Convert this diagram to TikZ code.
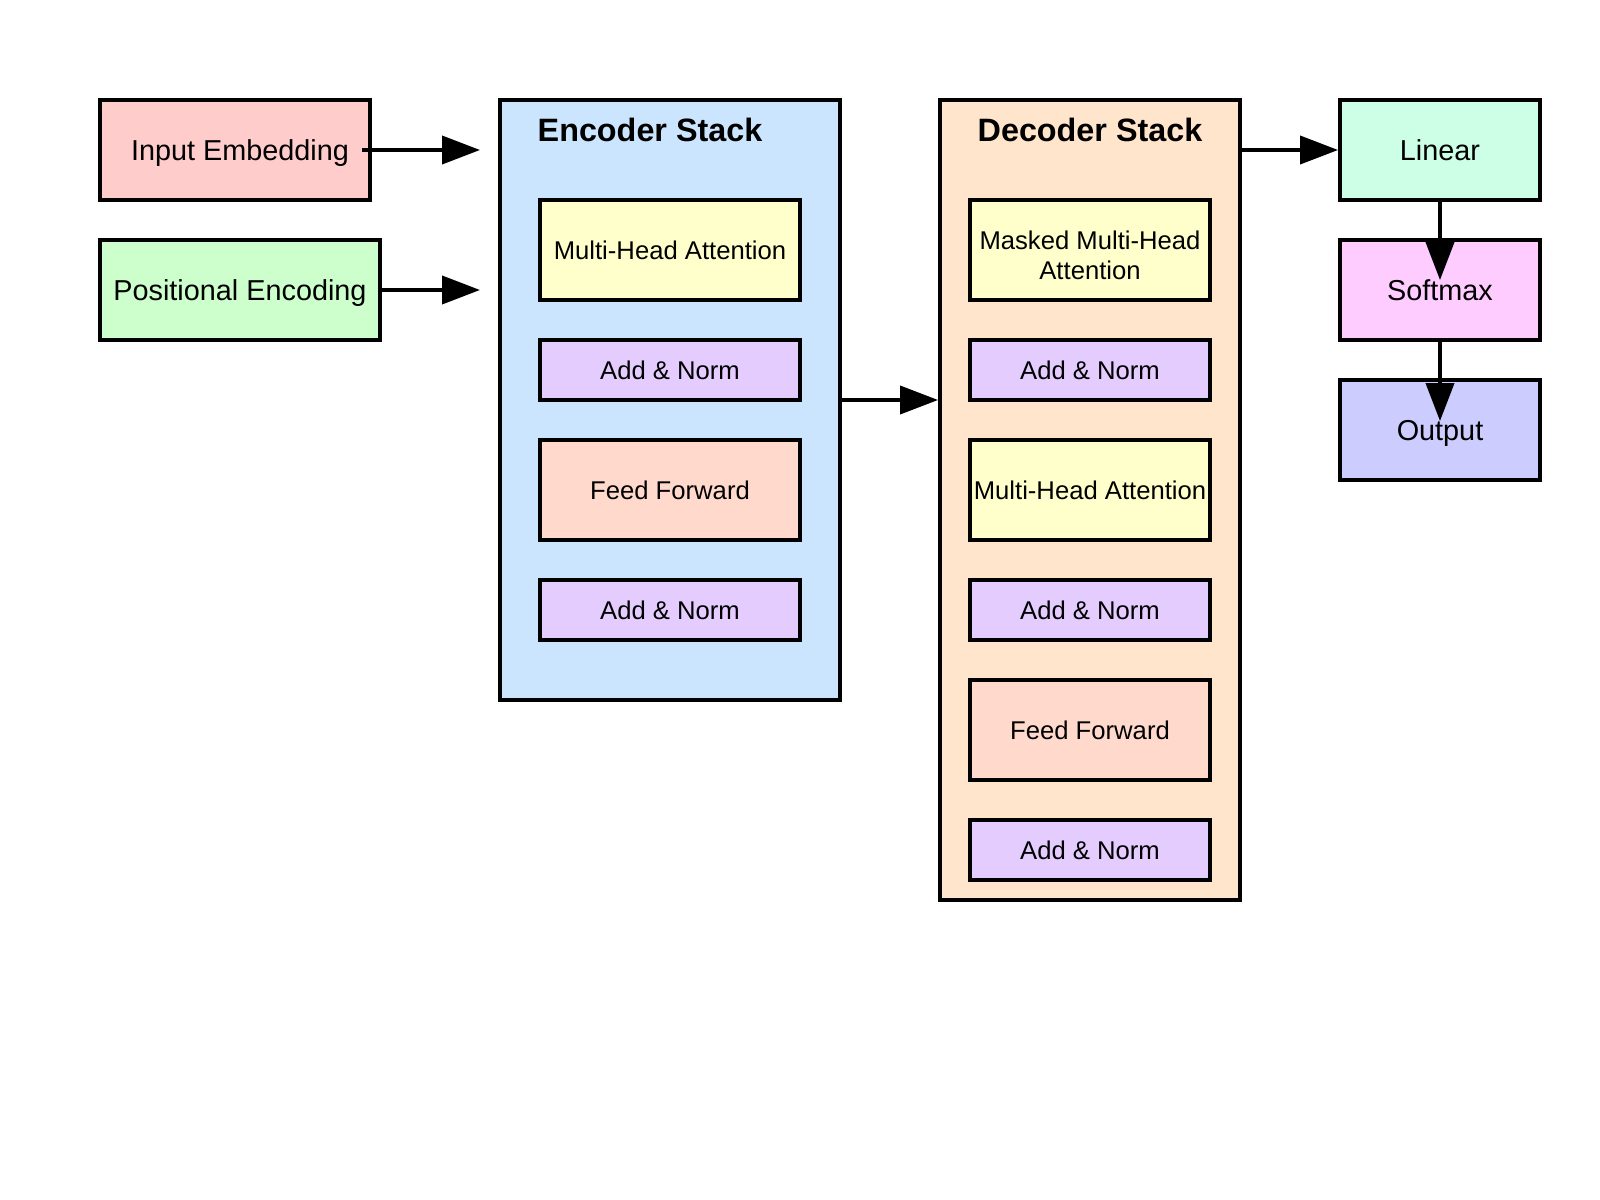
\documentclass[tikz,border=0pt]{standalone}
\usepackage{fontspec}
\setmainfont{Liberation Sans}
\usepackage{xcolor}
\usepackage{tikz}
\usetikzlibrary{arrows.meta}

\definecolor{embcol}{HTML}{FFCCCC}
\definecolor{poscol}{HTML}{CCFFCC}
\definecolor{enccol}{HTML}{CCE5FF}
\definecolor{deccol}{HTML}{FFE5CC}
\definecolor{attcol}{HTML}{FFFFCC}
\definecolor{normcol}{HTML}{E5CCFF}
\definecolor{ffcol}{HTML}{FFDACC}
\definecolor{lincol}{HTML}{CCFFE5}
\definecolor{softcol}{HTML}{FFCCFF}
\definecolor{outcol}{HTML}{CCCCFF}

\begin{document}
\begin{tikzpicture}[x=0.1mm,y=-0.1mm,
    box/.style={draw,line width=1.1pt,inner sep=0pt,minimum height=10mm,text depth=0pt,font=\fontsize{8.2}{10}\selectfont},
    sub/.style={draw,line width=1.1pt,inner sep=0pt,align=center,text depth=0pt,font=\fontsize{7.3}{8.5}\selectfont},
    stack/.style={draw,line width=1.1pt,inner sep=0pt},
    title/.style={font=\bfseries\fontsize{9.2}{11}\selectfont},
    arr/.style={-{Triangle[length=3.8mm,width=2.8mm]},line width=1.1pt}]
    \useasboundingbox (0,0) rectangle (1600,1200);
    \node[box,fill=embcol,minimum width=27mm] (emb) at (235,150) {\hspace*{1mm}Input Embedding};
    \node[box,fill=poscol,minimum width=28mm] (pos) at (240,290) {Positional Encoding};
    \node[stack,fill=enccol,minimum width=34mm,minimum height=60mm] (enc) at (670,400) {};
    \node[title] (enct) at (650,130) {Encoder Stack};
    \node[sub,fill=attcol,minimum width=26mm,minimum height=10mm] (e1) at (670,250) {Multi-Head Attention};
    \node[sub,fill=normcol,minimum width=26mm,minimum height=6mm] (e2) at (670,370) {Add \& Norm};
    \node[sub,fill=ffcol,minimum width=26mm,minimum height=10mm] (e3) at (670,490) {Feed Forward};
    \node[sub,fill=normcol,minimum width=26mm,minimum height=6mm] (e4) at (670,610) {Add \& Norm};
    \node[stack,fill=deccol,minimum width=30mm,minimum height=80mm] (dec) at (1090,500) {};
    \node[title] (dect) at (1090,130) {Decoder Stack};
    \node[sub,fill=attcol,minimum width=24mm,minimum height=10mm,text height=17pt] (d1) at (1090,250) {Masked Multi-Head\\Attention};
    \node[sub,fill=normcol,minimum width=24mm,minimum height=6mm] (d2) at (1090,370) {Add \& Norm};
    \node[sub,fill=attcol,minimum width=24mm,minimum height=10mm] (d3) at (1090,490) {Multi-Head Attention};
    \node[sub,fill=normcol,minimum width=24mm,minimum height=6mm] (d4) at (1090,610) {Add \& Norm};
    \node[sub,fill=ffcol,minimum width=24mm,minimum height=10mm] (d5) at (1090,730) {Feed Forward};
    \node[sub,fill=normcol,minimum width=24mm,minimum height=6mm] (d6) at (1090,850) {Add \& Norm};
    \node[box,fill=lincol,minimum width=20mm] (lin) at (1440,150) {Linear};
    \node[box,fill=softcol,minimum width=20mm] (soft) at (1440,290) {Softmax};
    \node[box,fill=outcol,minimum width=20mm] (out) at (1440,430) {Output};
    \coordinate (in1) at (480,150);
    \coordinate (in2) at (480,290);
    \draw[arr] ([xshift=-1mm]emb.east) -- (in1);
    \draw[arr] (pos) -- (in2);
    \draw[arr] (enc.east) -- (enc.east -| dec.west);
    \draw[arr] (dec.east |- lin) -- (lin.west);
    \draw[arr] (lin.south) -- ([yshift=-4.2mm]soft.north);
    \draw[arr] (soft.south) -- ([yshift=-4.3mm]out.north);
\end{tikzpicture}
\end{document}
